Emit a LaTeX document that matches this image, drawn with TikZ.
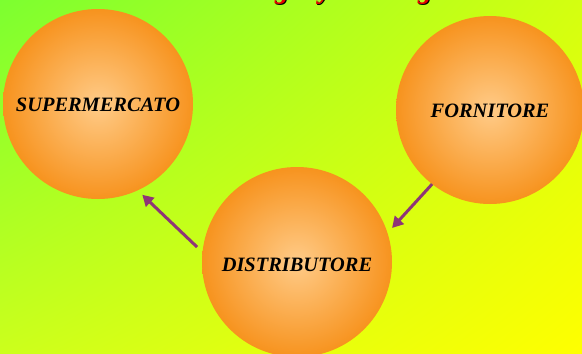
\documentclass[tikz,border=0pt]{standalone}
\usepackage{fontspec}
\setmainfont{Liberation Serif}
\usetikzlibrary{arrows.meta,calc,shadings}
\definecolor{bgTL}{HTML}{7CFF30}
\definecolor{bgTR}{HTML}{D4FF10}
\definecolor{bgBL}{HTML}{CCFF1C}
\definecolor{bgBR}{HTML}{FFFF00}
\definecolor{ballIn}{HTML}{FFCB88}
\definecolor{ballOut}{HTML}{F7931E}
\definecolor{arrowCol}{HTML}{8E3577}
\definecolor{titleRed}{HTML}{E80000}
\tikzset{
  ball/.style={circle, minimum size=190pt, inner sep=0pt, outer sep=0pt,
    inner color=ballIn, outer color=ballOut},
  lbl/.style={font=\fontsize{20.4}{24}\selectfont\bfseries\itshape, text=black},
  flow/.style={draw=arrowCol, line width=3pt,
    -{Triangle[length=11pt,width=12pt]}},
  ttl/.style={font=\fontsize{28}{32}\selectfont\bfseries\itshape, anchor=base}
}
\begin{document}
\begin{tikzpicture}[x=1pt,y=-1pt]
  \useasboundingbox (0,0) rectangle (582,354);
  % background
  \shade[upper left=bgTL, upper right=bgTR, lower left=bgBL, lower right=bgBR]
    (0,0) rectangle (582,354);
  \begin{scope}
    \clip (0,0) rectangle (582,354);
    % title (only its lower part falls inside the page)
    \foreach \x/\c in {282/g, 325/y, 425/g} {
      \node[ttl, text=black] at (\x+1.2,-0.2) {\c};
      \node[ttl, text=titleRed] at (\x,-1.2) {\c};
    }
    % the three actors
    \node[ball] (s) at (98,104) {};
    \node[ball, minimum size=188pt] (f) at (490,110) {};
    \node[ball] (d) at (297,262) {};
  \end{scope}
  \node[lbl, anchor=base] at (98,111.5) {SUPERMERCATO};
  \node[lbl, anchor=base] at (490,117) {FORNITORE};
  \node[lbl, anchor=base] at (297,271) {DISTRIBUTORE};
  % connector end points just outside the circles (y axis points down)
  \path (d.center) ++(188.5:101) coordinate (d1);
  \path (s.center) ++(64:101) coordinate (s1);
  \path (f.center) ++(128:94) coordinate (f1);
  \path (d.center) ++(-19.7:101) coordinate (d2);
  \draw[flow] (d1) -- (s1);
  \draw[flow] (f1) -- (d2);
\end{tikzpicture}
\end{document}
